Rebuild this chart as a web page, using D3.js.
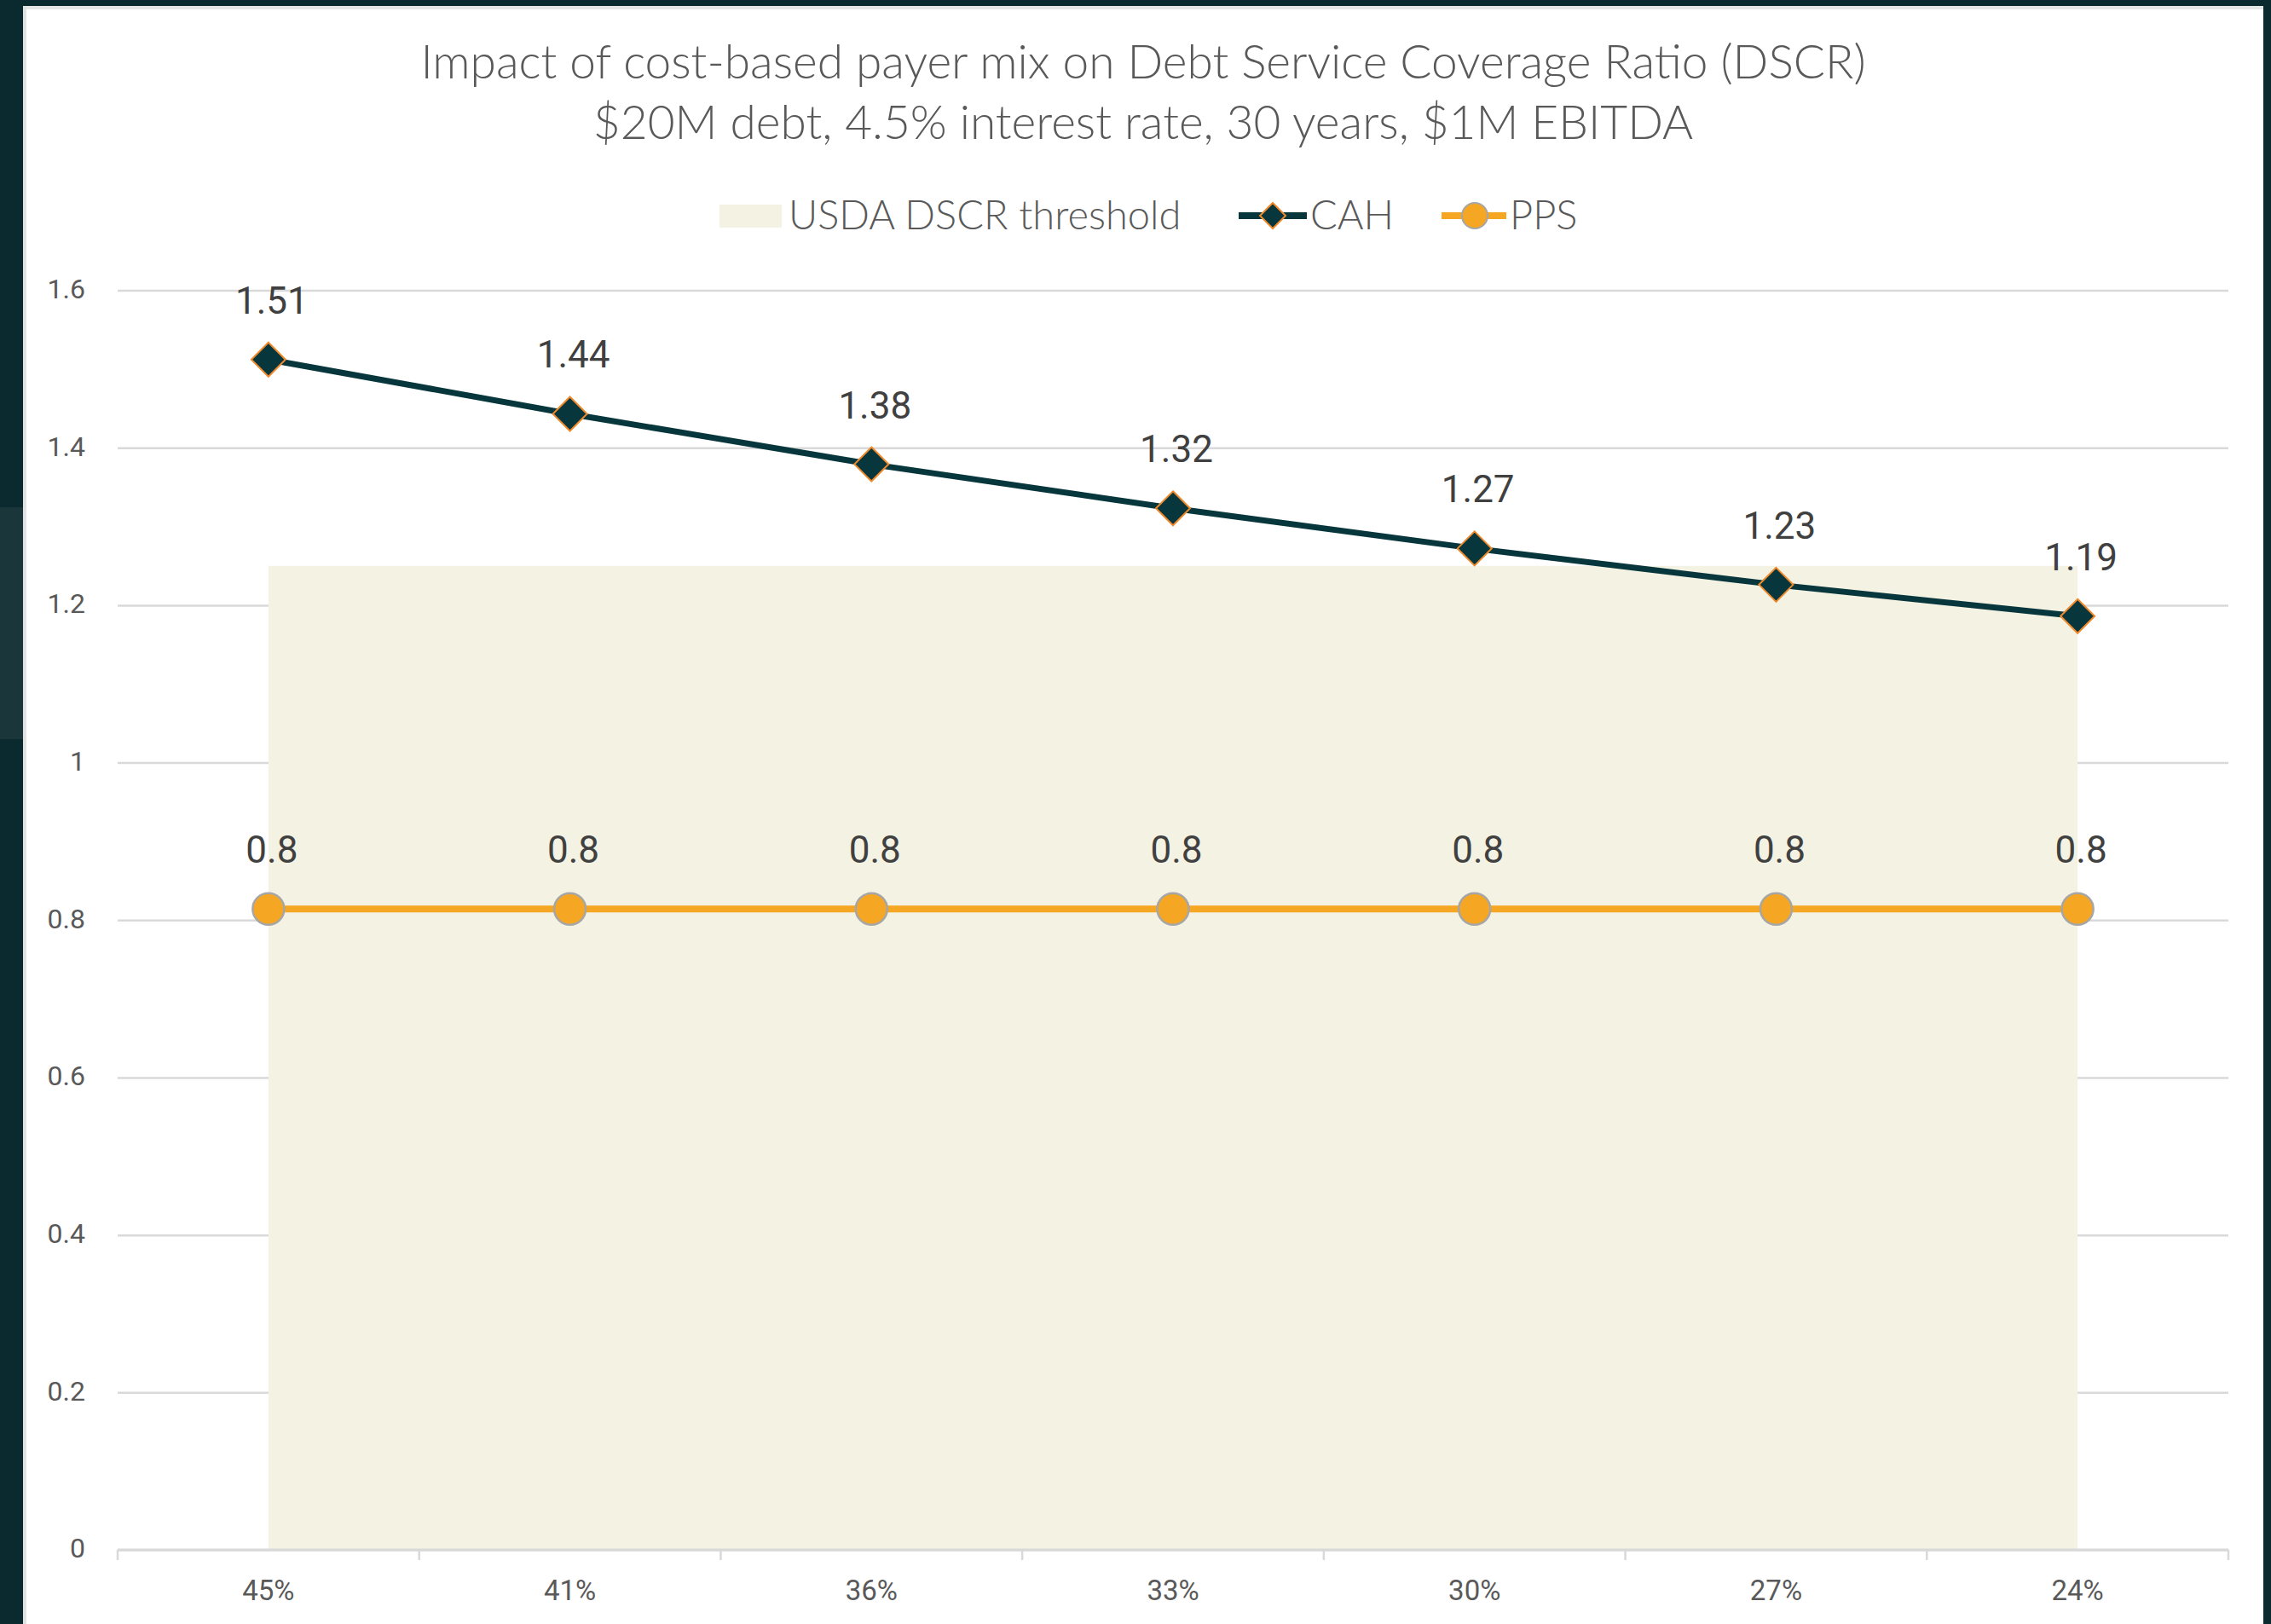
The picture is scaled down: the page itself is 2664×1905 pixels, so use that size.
<!DOCTYPE html>
<html>
<head>
<meta charset="utf-8">
<script src="https://cdn.jsdelivr.net/npm/d3@7"></script>
<style>
  html, body { margin: 0; padding: 0; background: #0a2a30; }
  svg { display: block; }
  text { font-family: Lato, "Open Sans", sans-serif; }
</style>
</head>
<body>
<div id="container"></div>
<script>
/* DATA */
const categories = ["45%", "41%", "36%", "33%", "30%", "27%", "24%"];
const cahValues = [1.512, 1.443, 1.379, 1.323, 1.272, 1.226, 1.186];
const ppsValues = [0.814, 0.814, 0.814, 0.814, 0.814, 0.814, 0.814];
const thresholdValues = [1.25, 1.25, 1.25, 1.25, 1.25, 1.25, 1.25];
const yTicks = [0, 0.2, 0.4, 0.6, 0.8, 1, 1.2, 1.4, 1.6];
const titleLines = [
  "Impact of cost-based payer mix on Debt Service Coverage Ratio (DSCR)",
  "$20M debt, 4.5% interest rate, 30 years, $1M EBITDA"
];
const legendLabels = ["USDA DSCR threshold", "CAH", "PPS"];

/* CONSTANTS */
const W = 2664, H = 1905;
const plot = {left: 138, right: 2614, top: 340.5, bottom: 1818};
const colors = {
  frame: "#0a2a30",
  area: "#f4f2e2",
  cah: "#07363c",
  cahStroke: "#f0892a",
  pps: "#f5a623",
  ppsStroke: "#a6a6a6",
  grid: "#d9d9d9",
  text: "#595959",
  label: "#404040"
};

const svg = d3.select("#container")
  .append("svg")
  .attr("width", W)
  .attr("height", H);

// dark frame + white panel
svg.append("rect").attr("width", W).attr("height", H).attr("fill", colors.frame);
svg.append("rect").attr("x", 0).attr("y", 595).attr("width", 27).attr("height", 272).attr("fill", "#1b363a");
svg.append("rect").attr("x", 27).attr("y", 7).attr("width", 2628).attr("height", H - 7).attr("fill", "#ffffff");
svg.append("rect").attr("x", 27).attr("y", 7).attr("width", 2628).attr("height", 4).attr("fill", "#e6e6e6");
svg.append("rect").attr("x", 27).attr("y", 7).attr("width", 4).attr("height", H - 7).attr("fill", "#e2e2e2");

/* SCALES */
const xScale = d3.scaleBand()
  .domain(categories)
  .range([plot.left, plot.right])
  .padding(0);
const cx = d => xScale(d) + xScale.bandwidth() / 2;

const yScale = d3.scaleLinear()
  .domain([0, 1.6])
  .range([plot.bottom, plot.top]);

/* TITLE */
svg.selectAll("text.title")
  .data(titleLines)
  .join("text")
  .attr("class", "title")
  .attr("x", 1341)
  .attr("y", (d, i) => 92 + i * 71)
  .attr("text-anchor", "middle")
  .attr("fill", colors.text)
  .style("font-size", "55px")
  .style("font-weight", 300)
  .text(d => d);

/* GRIDLINES */
svg.append("g")
  .attr("transform", `translate(${plot.left},0)`)
  .call(d3.axisLeft(yScale).tickValues(yTicks).tickSize(-(plot.right - plot.left)).tickFormat(""))
  .call(g => g.select(".domain").remove())
  .call(g => g.selectAll("line").attr("stroke", colors.grid).attr("stroke-width", 2.5));

/* Y AXIS LABELS */
svg.append("g")
  .attr("transform", `translate(${plot.left},0)`)
  .call(d3.axisLeft(yScale).tickValues(yTicks).tickSize(0).tickPadding(38).tickFormat(d3.format("~g")))
  .call(g => g.select(".domain").remove())
  .call(g => g.selectAll("text")
    .attr("fill", colors.text)
    .attr("dy", "0.28em")
    .style("font-size", "32px")
    .style("font-family", "Roboto, sans-serif"));

/* THRESHOLD AREA */
const area = d3.area()
  .x((d, i) => cx(categories[i]))
  .y0(yScale(0))
  .y1(d => yScale(d));

svg.append("path")
  .datum(thresholdValues)
  .attr("d", area)
  .attr("fill", colors.area);

/* X AXIS */
svg.append("line")
  .attr("x1", plot.left).attr("x2", plot.right)
  .attr("y1", plot.bottom).attr("y2", plot.bottom)
  .attr("stroke", colors.grid).attr("stroke-width", 3);

const boundaries = categories.map(c => xScale(c)).concat([xScale.range()[1]]);
svg.selectAll("line.xtick")
  .data(boundaries)
  .join("line")
  .attr("class", "xtick")
  .attr("x1", d => d).attr("x2", d => d)
  .attr("y1", plot.bottom).attr("y2", plot.bottom + 12)
  .attr("stroke", colors.grid).attr("stroke-width", 2.5);

svg.append("g")
  .attr("transform", `translate(0,${plot.bottom})`)
  .call(d3.axisBottom(xScale).tickSize(0).tickPadding(36))
  .call(g => g.select(".domain").remove())
  .call(g => g.selectAll("text")
    .attr("fill", colors.text)
    .style("font-size", "33px")
    .style("font-family", "Roboto, sans-serif"));

/* LINES */
const line = d3.line()
  .x((d, i) => cx(categories[i]))
  .y(d => yScale(d));

svg.append("path")
  .datum(ppsValues)
  .attr("d", line)
  .attr("fill", "none")
  .attr("stroke", colors.pps)
  .attr("stroke-width", 8);

svg.append("path")
  .datum(cahValues)
  .attr("d", line)
  .attr("fill", "none")
  .attr("stroke", colors.cah)
  .attr("stroke-width", 7);

/* MARKERS */
const diamond = s => `M0,${-s}L${s},0L0,${s}L${-s},0Z`;

svg.selectAll("path.cah-marker")
  .data(cahValues)
  .join("path")
  .attr("class", "cah-marker")
  .attr("transform", (d, i) => `translate(${cx(categories[i])},${yScale(d)})`)
  .attr("d", diamond(20))
  .attr("fill", colors.cah)
  .attr("stroke", colors.cahStroke)
  .attr("stroke-width", 2);

svg.selectAll("circle.pps-marker")
  .data(ppsValues)
  .join("circle")
  .attr("class", "pps-marker")
  .attr("cx", (d, i) => cx(categories[i]))
  .attr("cy", d => yScale(d))
  .attr("r", 18.5)
  .attr("fill", colors.pps)
  .attr("stroke", colors.ppsStroke)
  .attr("stroke-width", 2.5);

/* DATA LABELS */
const fmt2 = d3.format(".2f"), fmt1 = d3.format(".1f");

svg.selectAll("text.cah-label")
  .data(cahValues)
  .join("text")
  .attr("class", "cah-label")
  .attr("x", (d, i) => cx(categories[i]) + 4)
  .attr("y", d => yScale(d) - 54)
  .attr("text-anchor", "middle")
  .attr("fill", colors.label)
  .style("font-size", "44px")
  .style("font-family", "Roboto, sans-serif")
  .text(d => fmt2(d));

svg.selectAll("text.pps-label")
  .data(ppsValues)
  .join("text")
  .attr("class", "pps-label")
  .attr("x", (d, i) => cx(categories[i]) + 4)
  .attr("y", d => yScale(d) - 54)
  .attr("text-anchor", "middle")
  .attr("fill", colors.label)
  .style("font-size", "44px")
  .style("font-family", "Roboto, sans-serif")
  .text(d => fmt1(d));

/* LEGEND */
const legend = svg.append("g");
const ly = 253;

legend.append("rect")
  .attr("x", 844).attr("y", 240).attr("width", 73).attr("height", 27)
  .attr("fill", colors.area);
legend.append("text")
  .attr("x", 925).attr("y", 269)
  .attr("fill", colors.text)
  .style("font-size", "47px")
  .style("font-weight", 300)
  .text(legendLabels[0]);

legend.append("line")
  .attr("x1", 1453).attr("x2", 1533).attr("y1", ly).attr("y2", ly)
  .attr("stroke", colors.cah).attr("stroke-width", 8);
legend.append("path")
  .attr("transform", `translate(1493,${ly})`)
  .attr("d", diamond(15))
  .attr("fill", colors.cah)
  .attr("stroke", colors.cahStroke)
  .attr("stroke-width", 2);
legend.append("text")
  .attr("x", 1537).attr("y", 269)
  .attr("fill", colors.text)
  .style("font-size", "47px")
  .style("font-weight", 300)
  .text(legendLabels[1]);

legend.append("line")
  .attr("x1", 1691).attr("x2", 1767).attr("y1", ly).attr("y2", ly)
  .attr("stroke", colors.pps).attr("stroke-width", 8);
legend.append("circle")
  .attr("cx", 1730).attr("cy", ly).attr("r", 15)
  .attr("fill", colors.pps)
  .attr("stroke", colors.ppsStroke)
  .attr("stroke-width", 2);
legend.append("text")
  .attr("x", 1771).attr("y", 269)
  .attr("fill", colors.text)
  .style("font-size", "47px")
  .style("font-weight", 300)
  .text(legendLabels[2]);
</script>
</body>
</html>
